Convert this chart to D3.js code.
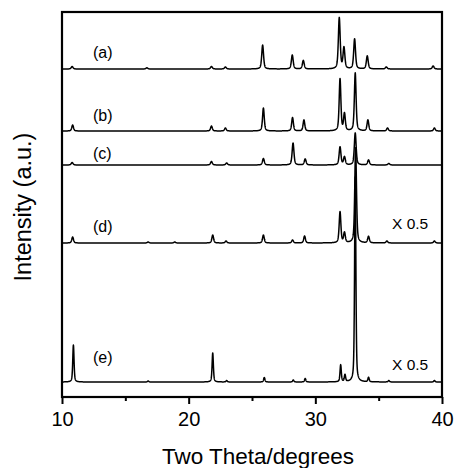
<!DOCTYPE html>
<html><head><meta charset="utf-8">
<script src="https://cdn.jsdelivr.net/npm/d3@7"></script>
<style>body{margin:0;background:#fff}svg{display:block}</style>
</head><body>
<svg id="chart" width="457" height="468"></svg>
<script>
// ---- data ----
const traceNames = ["(a)", "(b)", "(c)", "(d)", "(e)"];
const traceOffsets = [328, 266, 232, 154, 15];
const scaleNotes = ["", "", "", "X 0.5", "X 0.5"];
// peaks: [2theta (deg), intensity above baseline (a.u.)]
const peaksA = [[10.8,2.5],[16.7,1.2],[21.8,2.5],[22.9,2],[25.84,24],[28.18,14],[29.05,8.5],[31.89,51],[32.26,21],[33.1,30],[34.1,13],[35.6,2],[39.3,3]];
const peaksB = [[10.84,6],[21.8,5],[22.9,3],[25.9,23],[28.2,13.5],[29.1,11],[31.95,52],[32.3,17],[33.15,58],[34.15,11],[35.7,3],[39.4,3]];
const peaksC = [[10.8,2.5],[21.8,3.5],[23.0,2],[25.9,6.5],[28.24,22],[29.2,6],[31.95,18],[32.3,8],[33.15,32],[34.2,5],[35.8,1.5]];
const peaksD = [[10.84,6],[16.8,1],[18.9,1],[21.9,8],[22.95,2],[25.9,8],[28.2,3],[29.15,7],[31.95,31],[32.3,10],[33.18,95],[34.2,6.5],[35.65,2],[39.4,2]];
const peaksE = [[10.9,37],[16.8,1],[21.9,29],[23.0,1.5],[25.97,4.5],[28.26,2],[29.2,3.5],[32.0,17],[32.34,7],[33.15,205],[34.2,4.5],[35.8,1.5],[39.4,1.5]];
const peakWidths = [0.17, 0.16, 0.17, 0.16, 0.12];
const xTicks = [10, 20, 30, 40];
const xMinorTicks = [15, 25, 35];
const xDomain = [10, 40];
const yDomain = [0, 385];

// ---- layout ----
const svg = d3.select("#chart");
const m = {left: 62, right: 442, top: 12, bottom: 397};
const x = d3.scaleLinear().domain(xDomain).range([m.left, m.right]);
const y = d3.scaleLinear().domain(yDomain).range([m.bottom, m.top]);
const font = "Liberation Sans, Arial, Helvetica, sans-serif";
const allPeaks = [peaksA, peaksB, peaksC, peaksD, peaksE];

function profile(peaks, w, off) {
  const pts = [];
  const step = 0.01;
  const n = Math.round((xDomain[1] - xDomain[0]) / step);
  for (let i = 0; i <= n; i++) {
    const t = xDomain[0] + i * step;
    let v = 0;
    for (const [p, h] of peaks) {
      const d = (t - p) / (w / 2);
      const lor = 1 / (1 + d * d);
      const gau = Math.exp(-Math.LN2 * d * d);
      v += h * (0.5 * lor + 0.5 * gau);
    }
    pts.push([t, off + v]);
  }
  return pts;
}

const line = d3.line().x(d => x(d[0])).y(d => y(d[1]));
allPeaks.forEach((pk, i) => {
  svg.append("path")
    .attr("d", line(profile(pk, peakWidths[i], traceOffsets[i])))
    .attr("fill", "none").attr("stroke", "#000").attr("stroke-width", 1.5)
    .attr("stroke-linejoin", "round");
});

// labels
const labelDy = [17, 16, 12, 17, 25];
traceNames.forEach((t, i) => {
  svg.append("text").text(t)
    .attr("x", 93).attr("y", y(traceOffsets[i]) - labelDy[i] + 5.5)
    .attr("font-family", font).attr("font-size", 16).attr("fill", "#000");
});
const noteDy = [0, 0, 0, 20, 18];
scaleNotes.forEach((t, i) => {
  if (!t) return;
  svg.append("text").text(t)
    .attr("x", 392).attr("y", y(traceOffsets[i]) - noteDy[i] + 5.5)
    .attr("font-family", font).attr("font-size", 15.5).attr("fill", "#000");
});

// frame
svg.append("rect").attr("x", m.left).attr("y", m.top)
  .attr("width", m.right - m.left).attr("height", m.bottom - m.top)
  .attr("fill", "none").attr("stroke", "#000").attr("stroke-width", 2.2);

// x axis
const xAxis = svg.append("g").attr("transform", `translate(0,${m.bottom})`)
  .call(d3.axisBottom(x).tickValues(xTicks).tickSize(7).tickPadding(8).tickFormat(d3.format("d")));
xAxis.select(".domain").remove();
xAxis.selectAll(".tick line").attr("stroke-width", 2);
xAxis.selectAll("text").attr("font-family", font).attr("font-size", 20).attr("fill", "#000");
const xMinor = svg.append("g").attr("transform", `translate(0,${m.bottom})`)
  .call(d3.axisBottom(x).tickValues(xMinorTicks).tickSize(4).tickFormat(""));
xMinor.select(".domain").remove();
xMinor.selectAll(".tick line").attr("stroke-width", 2);

// titles
svg.append("text").text("Two Theta/degrees")
  .attr("x", 258).attr("y", 464).attr("text-anchor", "middle")
  .attr("font-family", font).attr("font-size", 22.5).attr("fill", "#000");
svg.append("text").text("Intensity (a.u.)")
  .attr("transform", "translate(31,207) rotate(-90)").attr("text-anchor", "middle")
  .attr("font-family", font).attr("font-size", 23.5).attr("fill", "#000");
</script>
</body></html>
